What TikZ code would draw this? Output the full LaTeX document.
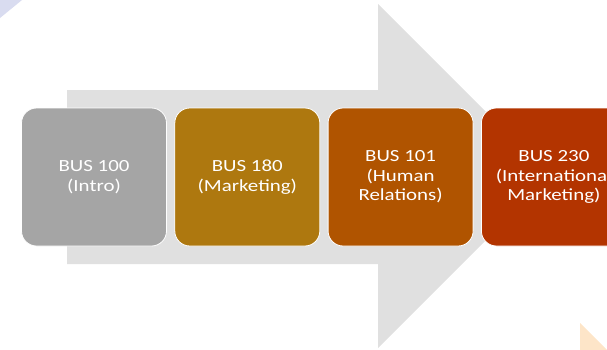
\documentclass[tikz,border=0pt]{standalone}
\usepackage{fontspec}
\setmainfont{Carlito}[FakeStretch=1.23]
\usetikzlibrary{positioning}
\definecolor{arrowgray}{HTML}{E0E0E0}
\definecolor{introgray}{HTML}{A5A5A5}
\definecolor{mktgold}{HTML}{AE780F}
\definecolor{hrorange}{HTML}{B05400}
\definecolor{intlred}{HTML}{B33400}
\definecolor{cornerblue}{HTML}{D9DCF0}
\definecolor{cornerpeach}{HTML}{FDE5C8}
\tikzset{
  course/.style={draw=white, line width=0.8pt, rounded corners=15pt,
    minimum width=145pt, minimum height=138pt, inner sep=0pt,
    text=white, align=center, font=\fontsize{17}{19.5}\selectfont},
}
\begin{document}
\begin{tikzpicture}[x=1pt,y=-1pt,node distance=7.5pt]
    \useasboundingbox (0,0) rectangle (607,349);
    \clip (0,0) rectangle (607,349);
    % draw the corner triangles
    \fill[cornerblue] (0,0) -- (22,0) -- (0,18) -- cycle;
    \fill[cornerpeach] (580,323) -- (607,350) -- (580,350) -- cycle;
    % draw the big arrow
    \fill[arrowgray] (67,90) -- (378,90) -- (378,4) -- (550,176)
        -- (378,348) -- (378,264) -- (67,264) -- cycle;
    % draw the courses
    \node[course, fill=introgray] (intro) at (94,177) {BUS 100\\(Intro)};
    \node[course, fill=mktgold, right=of intro] (mkt) {BUS 180\\(Marketing)};
    \node[course, fill=hrorange, right=of mkt] (hr) {BUS 101\\(Human\\Relations)};
    \node[course, fill=intlred, right=of hr] (intl) {BUS 230\\(International\\Marketing)};
\end{tikzpicture}
\end{document}
